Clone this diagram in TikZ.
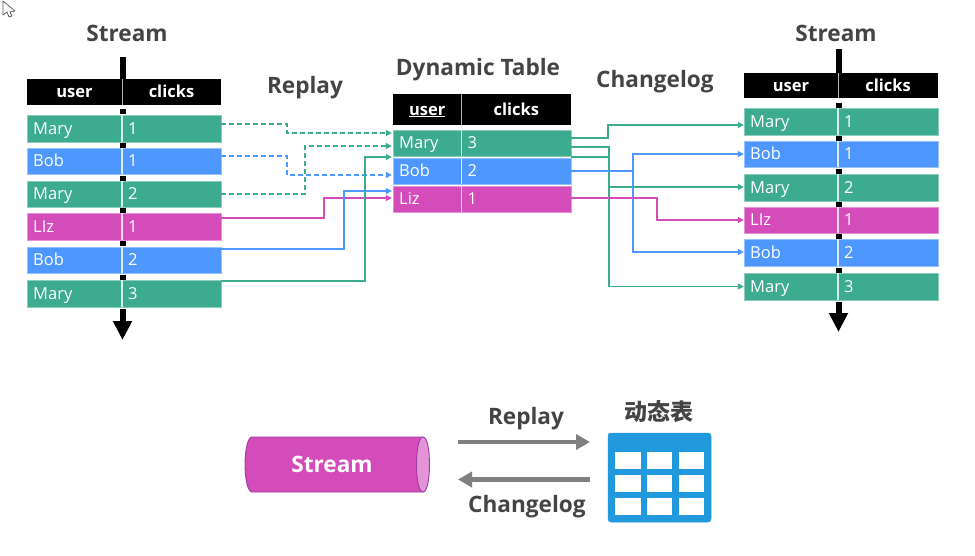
\documentclass[tikz,border=0pt]{standalone}
\usepackage{fontspec}
\setmainfont{Open Sans}
\newfontfamily\cjk{Noto Sans CJK SC}
\usetikzlibrary{arrows.meta}
\definecolor{rowgreen}{HTML}{3DAB8F}
\definecolor{rowblue}{HTML}{4E97FF}
\definecolor{rowpink}{HTML}{D44BBA}
\definecolor{inkgrey}{HTML}{444444}
\definecolor{flowgrey}{HTML}{808080}
\definecolor{iconblue}{HTML}{2299DD}
\definecolor{tubeedge}{HTML}{9A3FA8}
\tikzset{
  x=1pt, y=-1pt,
  title/.style={font=\fontsize{22.6}{24}\selectfont\bfseries, text=inkgrey, inner sep=0},
  cellkey/.style={font=\fontsize{16.5}{18}\selectfont, text=white, inner sep=0, anchor=base west},
  headtext/.style={font=\fontsize{16.5}{18}\selectfont\bfseries, text=white, inner sep=0, anchor=base},
  link/.style={line width=1.8pt, -{Triangle[length=6pt,width=6pt]}},
  dashlink/.style={link, line width=2pt, dash pattern=on 5pt off 3pt},
  flow/.style={line width=4.5pt, draw=flowgrey, -{Triangle[length=14pt,width=15pt]}},
  axisline/.style={line width=6pt, draw=black},
  axisarrow/.style={line width=6pt, draw=black, -{Triangle[length=19pt,width=18pt]}},
}
% \datarow{name}{left}{split}{right}{top}{bottom}{colour}{key}{value}
\newcommand{\datarow}[9]{%
  \fill[#7] (#2,#5) rectangle (#4,#6);
  \draw[#7!60!white, line width=0.8pt] (#2,#5) rectangle (#4,#6);
  \node[inner sep=0, minimum width={#4pt-#2pt}, minimum height={#6pt-#5pt}] (#1) at ({(#2+#4)/2},{(#5+#6)/2}) {};
  \draw[white!80!#7, line width=1.2pt] (#3,#5) -- (#3,#6);
  \node[cellkey] (#1k) at ({#2+6},{#6-7.5}) {#8};
  \node[cellkey] (#1v) at ({#3+6},{#6-7.5}) {#9};
}
% \headrow{name}{left}{split}{right}{top}{bottom}{first}{second}
\newcommand{\headrow}[8]{%
  \fill[black] (#2,#5) rectangle (#4,#6);
  \node[inner sep=0, minimum width={#4pt-#2pt}, minimum height={#6pt-#5pt}] (#1) at ({(#2+#4)/2},{(#5+#6)/2}) {};
  \draw[white!70!black, line width=0.8pt] (#3,#5) -- (#3,#6);
  \node[headtext] (#1k) at ({(#2+#3)/2},{(#5+#6)/2+5.5}) {#7};
  \node[headtext] (#1v) at ({(#3+#4)/2},{(#5+#6)/2+5.5}) {#8};
}
\newcommand{\tick}[2]{\fill[black] ({#1-3},{#2-2.5}) rectangle ({#1+3},{#2+2.5});}
\begin{document}
\begin{tikzpicture}
\useasboundingbox (0,0) rectangle (975,555);
\fill[white] (0,0) rectangle (975,555);

% pointer in the corner
\draw[black!65, fill=white, line width=0.7pt, line join=round]
  (3,1) -- (3,15) -- (7,12) -- (9,17) -- (12,16) -- (10,12) -- (15,11) -- cycle;

% titles
\node[title] (t1) at (127,33) {Stream};
\node[title] (t2) at (305,87.5) {Replay};
\node[title] (t3) at (478,70) {Dynamic Table};
\node[title] (t4) at (655,82) {Changelog};
\node[title] (t5) at (836,33) {Stream};

% source stream
\headrow{lh}{27}{122}{221}{79}{105}{user}{clicks}
\datarow{la}{27}{122}{221}{115}{142}{rowgreen}{Mary}{1}
\datarow{lb}{27}{122}{221}{148}{174}{rowblue}{Bob}{1}
\datarow{lc}{27}{122}{221}{181}{207}{rowgreen}{Mary}{2}
\datarow{ld}{27}{122}{221}{213}{240}{rowpink}{LIz}{1}
\datarow{le}{27}{122}{221}{247}{273}{rowblue}{Bob}{2}
\datarow{lf}{27}{122}{221}{280}{307}{rowgreen}{Mary}{3}
\foreach \y in {111,145,178,210,243,277} {\tick{122.5}{\y}}
\coordinate (ltop) at (122.5,57);
\coordinate (lhead) at (122.5,79);
\coordinate (lfoot) at (122.5,309);
\coordinate (lend) at (122.5,340);
\draw[axisline] (ltop) -- (lhead);
\draw[axisarrow] (lfoot) -- (lend);

% dynamic table
\headrow{mh}{393}{461.5}{571}{94}{125}{\underline{user}}{clicks}
\datarow{ma}{393}{461.5}{571}{130}{156}{rowgreen}{Mary}{3}
\datarow{mb}{393}{461.5}{571}{158}{184}{rowblue}{Bob}{2}
\datarow{mc}{393}{461.5}{571}{186}{212}{rowpink}{Liz}{1}

% resulting stream
\headrow{rh}{744}{838}{938}{73}{98}{user}{clicks}
\datarow{ra}{744}{838}{938}{108}{135}{rowgreen}{Mary}{1}
\datarow{rb}{744}{838}{938}{141}{167}{rowblue}{Bob}{1}
\datarow{rc}{744}{838}{938}{174}{201}{rowgreen}{Mary}{2}
\datarow{rd}{744}{838}{938}{207}{233}{rowpink}{LIz}{1}
\datarow{re}{744}{838}{938}{239}{266}{rowblue}{Bob}{2}
\datarow{rf}{744}{838}{938}{273}{300}{rowgreen}{Mary}{3}
\foreach \y in {105,138,171,204,236,270} {\tick{838.5}{\y}}
\coordinate (rtop) at (838.5,49);
\coordinate (rhead) at (838.5,73);
\coordinate (rfoot) at (838.5,302);
\coordinate (rend) at (838.5,332);
\draw[axisline] (rtop) -- (rhead);
\draw[axisarrow] (rfoot) -- (rend);

% replay connectors
\draw[dashlink, rowgreen] ([yshift=4.5pt]la.east) -- ++(66,0) |- ([xshift=-1pt,yshift=10pt]ma.west);
\draw[dashlink, rowblue]  ([yshift=5pt]lb.east) -- ++(66,0) |- ([xshift=-1pt,yshift=-4pt]mb.west);
\draw[dashlink, rowgreen] (lc.east) -- ++(84,0) |- ([xshift=-1pt,yshift=-3pt]ma.west);
\draw[link, rowpink]  ([yshift=8.5pt]ld.east) -- ++(103,0) |- ([xshift=-1pt,yshift=1pt]mc.west);
\draw[link, rowblue]  ([yshift=11pt]le.east) -- ++(123,0) |- ([xshift=-1pt,yshift=8pt]mc.west);
\draw[link, rowgreen] ([yshift=12.5pt]lf.east) -- ++(144,0) |- ([xshift=-1pt,yshift=-14pt]ma.west);

% changelog connectors
\draw[link, rowgreen] ([yshift=5pt]ma.east) -- ++(37,0) |- ([yshift=-3.5pt]ra.west);
\draw[link, rowgreen] ([yshift=-4pt]ma.east) -- ++(38,0) |- (rf.west);
\draw[link, rowgreen] ([yshift=-14pt]ma.east) -- ++(38,0) |- ([yshift=.5pt]rc.west);
\draw[link, rowblue]  (mb.east) -- ++(62,0) |- (rb.west);
\draw[link, rowblue]  (mb.east) -- ++(62,0) |- ([yshift=.5pt]re.west);
\draw[link, rowpink]  ([yshift=1pt]mc.east) -- ++(86,0) |- (rd.west);

% lower summary: stream cylinder
\draw[fill=rowpink, draw=tubeedge, line width=0.9pt]
  (423,437) -- (252,437) .. controls (248,437) and (245,449) .. (245,464.5)
  .. controls (245,480) and (248,492) .. (252,492) -- (423,492) -- cycle;
\draw[fill=rowpink!60!white, draw=tubeedge, line width=0.9pt]
  (423,437) .. controls (427.5,437) and (429.5,451) .. (429.5,464.5)
  .. controls (429.5,478) and (427.5,492) .. (423,492)
  .. controls (418.5,492) and (416.5,478) .. (416.5,464.5)
  .. controls (416.5,451) and (418.5,437) .. (423,437) -- cycle;
\node[font=\fontsize{22.6}{24}\selectfont\bfseries, text=white, inner sep=0] (cyl) at (332,464) {Stream};

% lower summary: table icon
\node[draw=iconblue, fill=iconblue, rounded corners=3pt, line width=0.5pt, inner sep=0,
      minimum width=103pt, minimum height=89pt] (icon) at (659.5,477.5) {};
\foreach \a/\b in {615/641,647/672,679/704} {
  \foreach \c/\d in {452/469,475/492,498/515} {
    \fill[white] (\a,\c) rectangle (\b,\d);
  }
}
\node[font=\cjk\fontsize{23}{25}\selectfont\bfseries, text=inkgrey, inner sep=0] (icont) at (659,412) {动态表};

% lower summary: flows
\coordinate (ra0) at (458,442);
\coordinate (ra1) at (590,442);
\coordinate (cl0) at (590,479.5);
\coordinate (cl1) at (458,479.5);
\draw[flow] (ra0) -- (ra1);
\draw[flow] (cl0) -- (cl1);
\node[title] (lr) at (526,419) {Replay};
\node[title] (lc2) at (527,507) {Changelog};
\end{tikzpicture}
\end{document}
